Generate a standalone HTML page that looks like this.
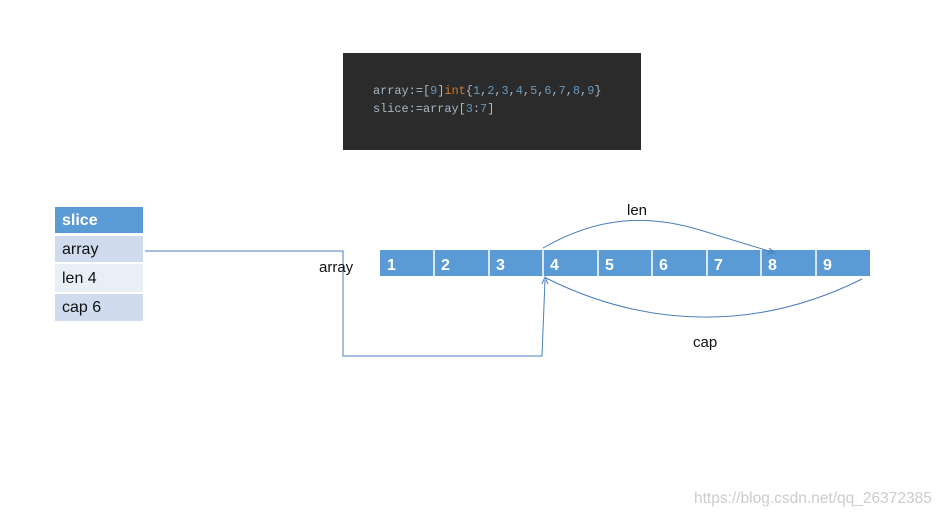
<!DOCTYPE html>
<html><head><meta charset="utf-8"><style>
body{margin:0;width:948px;height:517px;background:#fff;position:relative;overflow:hidden;font-family:"Liberation Sans",sans-serif}
.code{position:absolute;left:343px;top:53px;width:298px;height:97px;background:#2b2b2b;font-family:"Liberation Mono",monospace;font-size:11.9px;color:#a9b7c6}
.code div{position:absolute;left:30px;white-space:pre}
.k{color:#cc7832}.n{color:#6897bb}
.t{position:absolute;left:55px;width:88px;font-size:16px;color:#111;box-sizing:border-box;padding-left:7px}
</style></head><body>
<div class="code"><div style="top:31px">array:=[<span class="n">9</span>]<span class="k">int</span>{<span class="n">1</span>,<span class="n">2</span>,<span class="n">3</span>,<span class="n">4</span>,<span class="n">5</span>,<span class="n">6</span>,<span class="n">7</span>,<span class="n">8</span>,<span class="n">9</span>}</div><div style="top:49px">slice:=array[<span class="n">3</span>:<span class="n">7</span>]</div></div>
<div class="t" style="top:207px;height:26px;background:#5b9bd5;color:#fff;font-weight:bold;line-height:28px">slice</div>
<div class="t" style="top:236px;height:26px;background:#d0dced;line-height:28px">array</div>
<div class="t" style="top:264px;height:28px;background:#e9eff7;line-height:30px">len 4</div>
<div class="t" style="top:294px;height:27px;background:#d0dced;line-height:28px">cap 6</div>
<svg width="948" height="517" style="position:absolute;left:0;top:0">
<defs><marker id="a" markerWidth="8" markerHeight="8" refX="4" refY="4" orient="auto"><path d="M0,1 L7,4 L0,7" fill="none" stroke="#4a7ebb" stroke-width="1"/></marker></defs>
<rect x="380" y="250" width="490" height="26" fill="#5b9bd5"/>
<g stroke="#fff" stroke-width="1.5"><line x1="434" y1="250" x2="434" y2="276"/><line x1="489" y1="250" x2="489" y2="276"/><line x1="543" y1="250" x2="543" y2="276"/><line x1="598" y1="250" x2="598" y2="276"/><line x1="652" y1="250" x2="652" y2="276"/><line x1="707" y1="250" x2="707" y2="276"/><line x1="761" y1="250" x2="761" y2="276"/><line x1="816" y1="250" x2="816" y2="276"/></g>
<g fill="#fff" font-size="16" font-weight="bold" font-family="Liberation Sans,sans-serif"><text x="387" y="270">1</text><text x="441" y="270">2</text><text x="496" y="270">3</text><text x="550" y="270">4</text><text x="605" y="270">5</text><text x="659" y="270">6</text><text x="714" y="270">7</text><text x="768" y="270">8</text><text x="823" y="270">9</text></g>
<g fill="none" stroke="#4a7ebb" stroke-width="1">
<polyline points="145,251 343,251 343,356 542,356 545,280" marker-end="url(#a)"/>
<path d="M543,248 C600,215 650,215 700,230 L772,252" marker-end="url(#a)"/>
<path d="M546,278 C650,330 760,330 862,279"/>
</g>
<g font-size="15" fill="#111" font-family="Liberation Sans,sans-serif"><text x="319" y="272">array</text><text x="627" y="215">len</text><text x="693" y="347">cap</text></g>
<text x="694" y="503" font-size="15.5" fill="#ccc" font-family="Liberation Sans,sans-serif">https://blog.csdn.net/qq_26372385</text>
</svg>
</body></html>
